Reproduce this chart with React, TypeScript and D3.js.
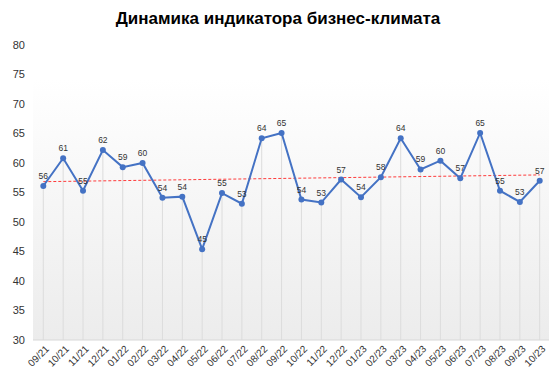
import * as d3 from 'd3';

const months = [
  '09/21', '10/21', '11/21', '12/21', '01/22', '02/22', '03/22', '04/22', '05/22',
  '06/22', '07/22', '08/22', '09/22', '10/22', '11/22', '12/22', '01/23', '02/23',
  '03/23', '04/23', '05/23', '06/23', '07/23', '08/23', '09/23', '10/23',
];
const values = [
  56.1, 60.8, 55.3, 62.2, 59.3, 60.0, 54.1, 54.3, 45.4, 54.9, 53.1, 64.2, 65.1,
  53.8, 53.3, 57.2, 54.2, 57.6, 64.2, 58.9, 60.4, 57.4, 65.1, 55.3, 53.4, 57.0,
];
const yTicks = [30, 35, 40, 45, 50, 55, 60, 65, 70, 75, 80];

const W = 556;
const H = 389;
const FONT = 'Arial, "Liberation Sans", sans-serif';

export default function App() {
  const x = d3.scalePoint<string>().domain(months).range([43.3, 539.7]);
  const y = d3.scaleLinear().domain([30, 80]).range([340, 45]);

  // linear trend
  const n = values.length;
  const xs = d3.range(n);
  const mx = d3.mean(xs)!;
  const my = d3.mean(values)!;
  const slope =
    d3.sum(xs, (i) => (i - mx) * (values[i] - my)) / d3.sum(xs, (i) => (i - mx) ** 2);
  const icpt = my - slope * mx;

  const line = d3
    .line<number>()
    .x((_, i) => x(months[i])!)
    .y((d) => y(d));

  const plotLeft = 33;
  const plotRight = 549;
  const plotTop = 79;
  const plotBottom = y(30);

  return (
    <svg width={W} height={H} style={{ position: 'absolute', left: 0, top: 0, background: '#fff' }}>
      <defs>
        <linearGradient id="bg" x1="0" y1="0" x2="0" y2="1">
          <stop offset="0%" stopColor="#ffffff" />
          <stop offset="100%" stopColor="#ececec" />
        </linearGradient>
      </defs>
      <text
        x={W / 2}
        y={24}
        textAnchor="middle"
        fontFamily={FONT}
        fontWeight="bold"
        fontSize={17}
        fill="#000"
      >
        Динамика индикатора бизнес-климата
      </text>

      <rect
        x={plotLeft}
        y={plotTop}
        width={plotRight - plotLeft}
        height={plotBottom - plotTop}
        fill="url(#bg)"
      />

      {yTicks.map((t) => (
        <text
          key={t}
          x={25}
          y={y(t)}
          dy="0.35em"
          textAnchor="end"
          fontFamily={FONT}
          fontSize={11}
          fill="#333"
        >
          {t}
        </text>
      ))}

      {months.map((m, i) => (
        <line
          key={m}
          x1={x(m)}
          x2={x(m)}
          y1={y(values[i])}
          y2={plotBottom}
          stroke="#dcdcdc"
          strokeWidth={1}
        />
      ))}

      <line x1={plotLeft} x2={plotRight} y1={plotBottom} y2={plotBottom} stroke="#d8d8d8" />

      <line
        x1={x(months[0])}
        x2={x(months[n - 1])}
        y1={y(icpt)}
        y2={y(icpt + slope * (n - 1))}
        stroke="#ff3b3b"
        strokeWidth={1}
        strokeDasharray="3,2"
      />

      <path d={line(values)!} fill="none" stroke="#4472c4" strokeWidth={2} />

      {values.map((v, i) => (
        <g key={i}>
          <circle cx={x(months[i])} cy={y(v)} r={3} fill="#4472c4" />
          <text
            x={x(months[i])}
            y={y(v) - 7}
            textAnchor="middle"
            fontFamily={FONT}
            fontSize={8.5}
            fill="#333"
          >
            {Math.round(v)}
          </text>
        </g>
      ))}

      {months.map((m) => (
        <text
          key={m}
          transform={`translate(${x(m)! + 4},${plotBottom + 7}) rotate(-45)`}
          textAnchor="end"
          dy="0.35em"
          fontFamily={FONT}
          fontSize={10}
          fill="#333"
        >
          {m}
        </text>
      ))}
    </svg>
  );
}
